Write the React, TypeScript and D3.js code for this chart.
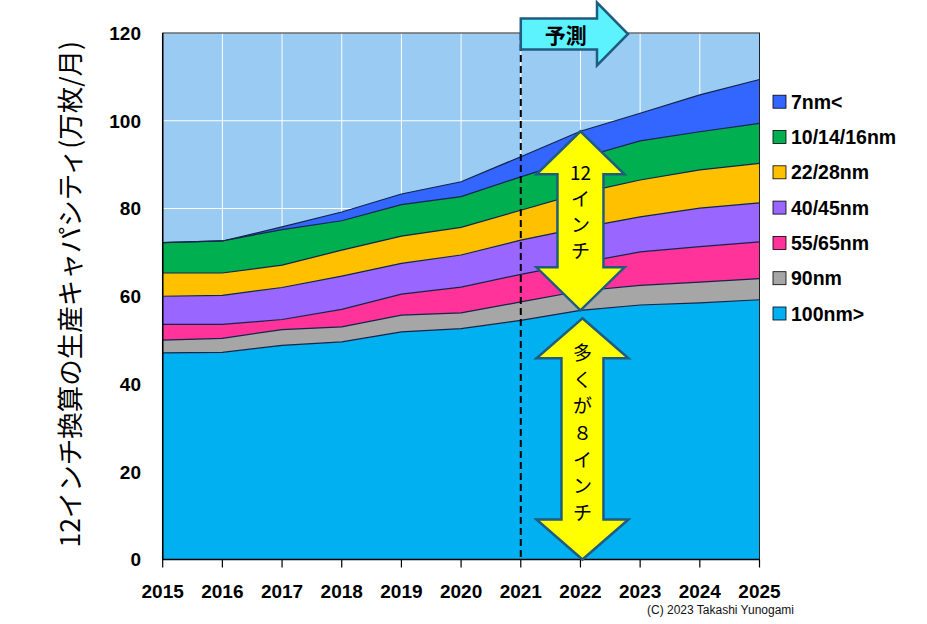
import { area, line, scaleLinear, stack } from "d3";

const years = [2015, 2016, 2017, 2018, 2019, 2020, 2021, 2022, 2023, 2024, 2025];
const keys = ["100nm>", "90nm", "55/65nm", "40/45nm", "22/28nm", "10/14/16nm", "7nm<"];
const colors = ["#00B0F0", "#A6A6A6", "#FF3399", "#9966FF", "#FFC000", "#00B050", "#3366FF"];

// wafer capacity per node (10k wafers / month, 12-inch equivalent)
const nm100 = [47.1, 47.2, 48.8, 49.6, 51.9, 52.6, 54.5, 56.8, 58.0, 58.5, 59.2];
const nm90 = [2.9, 3.2, 3.6, 3.4, 3.8, 3.6, 4.2, 4.4, 4.5, 4.7, 4.8];
const nm55 = [3.6, 3.2, 2.3, 4.0, 4.8, 5.9, 6.3, 6.4, 7.6, 8.1, 8.4];
const nm40 = [6.4, 6.6, 7.3, 7.6, 7.0, 7.3, 7.8, 8.0, 8.0, 8.8, 8.9];
const nm22 = [5.3, 5.1, 5.1, 5.9, 6.2, 6.3, 6.8, 7.9, 8.4, 8.7, 9.0];
const nm10 = [6.9, 7.3, 8.1, 6.7, 7.2, 7.0, 7.6, 8.0, 8.9, 8.7, 9.1];
const nm7 = [0, 0, 0.6, 2.0, 2.4, 3.4, 4.6, 6.1, 6.3, 8.4, 10.0];

const yTicks = [0, 20, 40, 60, 80, 100, 120];
const forecastYear = 2021;
const arrowYear = 2022;
const upperText = ["12", "イ", "ン", "チ"];
const lowerText = ["多", "く", "が", "８", "イ", "ン", "チ"];

const W = 927;
const H = 624;
const left = 162.7;
const right = 759.5;
const top = 33;
const bottom = 559.5;

const numFont = "'Liberation Sans', Arial, sans-serif";
const jpFont = "'Noto Sans CJK JP', sans-serif";
const arrowStroke = "#1F5C80";

function doubleArrow(cx: number, y0: number, y1: number, headW: number, headH: number, shaftW: number) {
  const hw = headW / 2;
  const sw = shaftW / 2;
  return `M${cx},${y0} L${cx + hw},${y0 + headH} L${cx + sw},${y0 + headH} L${cx + sw},${y1 - headH} L${cx + hw},${y1 - headH} L${cx},${y1} L${cx - hw},${y1 - headH} L${cx - sw},${y1 - headH} L${cx - sw},${y0 + headH} L${cx - hw},${y0 + headH} Z`;
}

function rightArrow(x0: number, x1: number, yc: number, bodyH: number, headH: number, headLen: number) {
  const bh = bodyH / 2;
  const hh = headH / 2;
  const xh = x1 - headLen;
  return `M${x0},${yc - bh} L${xh},${yc - bh} L${xh},${yc - hh} L${x1},${yc} L${xh},${yc + hh} L${xh},${yc + bh} L${x0},${yc + bh} Z`;
}

export default function App() {
  const x = scaleLinear([2015, 2025], [left, right]);
  const y = scaleLinear([0, 120], [bottom, top]);

  const table = years.map((yr, i) => ({
    year: yr,
    "100nm>": nm100[i],
    "90nm": nm90[i],
    "55/65nm": nm55[i],
    "40/45nm": nm40[i],
    "22/28nm": nm22[i],
    "10/14/16nm": nm10[i],
    "7nm<": nm7[i],
  }));
  const series = stack<any>().keys(keys)(table);

  const areaGen = area<any>()
    .x((d) => x(d.data.year))
    .y0((d) => y(d[0]))
    .y1((d) => y(d[1]));
  const topLine = line<any>()
    .x((d) => x(d.data.year))
    .y((d) => y(d[1]));

  const ai = years.indexOf(arrowYear);
  const ax = x(arrowYear);
  const upTop = y(series[6][ai][1]);
  const upBot = y(series[0][ai][1]);
  const lowTop = upBot + 8;
  const lowBot = y(0);

  const fx = x(forecastYear);

  return (
    <svg width={W} height={H} style={{ position: "absolute", left: 0, top: 0, background: "#fff" }}>
      {/* plot background */}
      <rect x={left} y={top} width={right - left} height={bottom - top} fill="#99CBF3" />
      {yTicks.map((t) => (
        <line key={t} x1={left} x2={right} y1={y(t)} y2={y(t)} stroke="#fff" strokeWidth={1} />
      ))}
      {years.map((yr) => (
        <line key={yr} x1={x(yr)} x2={x(yr)} y1={top} y2={bottom} stroke="#fff" strokeWidth={1} />
      ))}

      {series.map((s, i) => (
        <path key={keys[i]} d={areaGen(s) || ""} fill={colors[i]} />
      ))}
      {series.map((s, i) => (
        <path key={"l" + keys[i]} d={topLine(s) || ""} fill="none" stroke="#14244a" strokeWidth={1.2} />
      ))}

      {/* frame and axes */}
      <rect x={left} y={top} width={right - left} height={bottom - top} fill="none" stroke="#222" strokeWidth={1} />
      <line x1={left} x2={left} y1={top} y2={bottom} stroke="#000" strokeWidth={1.5} />
      <line x1={left} x2={right} y1={bottom} y2={bottom} stroke="#000" strokeWidth={1.5} />
      {years.map((yr) => (
        <line key={"t" + yr} x1={x(yr)} x2={x(yr)} y1={bottom} y2={bottom + 8} stroke="#000" strokeWidth={1.2} />
      ))}
      {years.map((yr) => (
        <text
          key={"xl" + yr}
          x={x(yr)}
          y={598}
          textAnchor="middle"
          fontFamily={numFont}
          fontWeight="bold"
          fontSize={19}
        >
          {yr}
        </text>
      ))}
      {yTicks.map((t) => (
        <text
          key={"yl" + t}
          x={141}
          y={y(t)}
          dy="0.36em"
          textAnchor="end"
          fontFamily={numFont}
          fontWeight="bold"
          fontSize={19}
        >
          {t}
        </text>
      ))}
      <text
        transform={`translate(70,${(top + bottom) / 2 - 2}) rotate(-90)`}
        textAnchor="middle"
        dy="0.36em"
        fontFamily={jpFont}
        fontSize={26.5}
      >
        12インチ換算の生産キャパシティ(万枚/月)
      </text>

      {/* forecast marker */}
      <line x1={fx} x2={fx} y1={top} y2={bottom} stroke="#000" strokeWidth={2} strokeDasharray="7,4" />
      <path d={rightArrow(fx, 628, 34, 31, 63, 31)} fill="#5CF3FF" stroke={arrowStroke} strokeWidth={2.5} />
      <text x={fx + 45} y={35} dy="0.36em" textAnchor="middle" fontFamily={jpFont} fontWeight="bold" fontSize={21}>
        予測
      </text>

      {/* 12-inch / 8-inch arrows */}
      <path d={doubleArrow(ax, upTop, upBot, 88, 43, 46)} fill="#FFFF00" stroke={arrowStroke} strokeWidth={2.5} />
      {upperText.map((t, i) => (
        <text key={"u" + i} x={ax} y={173 + i * 26.2} dy="0.36em" textAnchor="middle" fontFamily={jpFont} fontSize={19}>
          {t}
        </text>
      ))}
      <path d={doubleArrow(ax + 2, lowTop, lowBot, 92, 40, 42)} fill="#FFFF00" stroke={arrowStroke} strokeWidth={2.5} />
      {lowerText.map((t, i) => (
        <text key={"d" + i} x={ax + 2} y={353 + i * 26.7} dy="0.36em" textAnchor="middle" fontFamily={jpFont} fontSize={19}>
          {t}
        </text>
      ))}

      {/* legend */}
      {keys
        .slice()
        .reverse()
        .map((k, i) => {
          const ci = keys.length - 1 - i;
          const cy = 101.7 + i * 35.3;
          return (
            <g key={"lg" + k}>
              <rect x={773} y={cy - 6.5} width={13} height={13} fill={colors[ci]} stroke="#000" strokeWidth={0.8} />
              <text x={791} y={cy} dy="0.36em" fontFamily={numFont} fontWeight="bold" fontSize={19.5}>
                {k}
              </text>
            </g>
          );
        })}

      <text x={647} y={614} fontFamily={numFont} fontSize={12} fill="#111">
        (C) 2023 Takashi Yunogami
      </text>
    </svg>
  );
}
